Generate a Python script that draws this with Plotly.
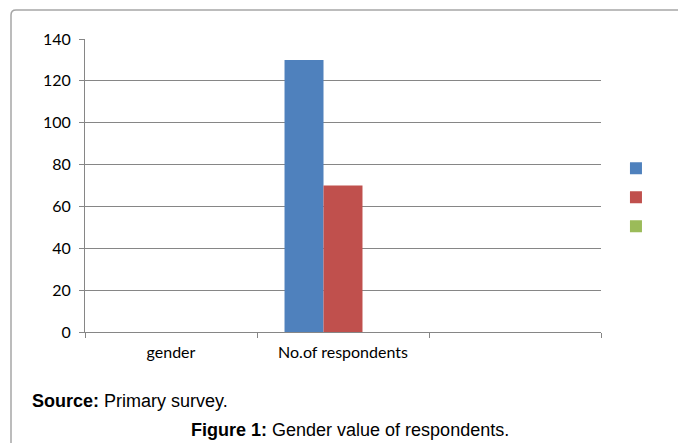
import plotly.graph_objects as go

categories = ["gender", "No.of respondents", " "]
series_names = [" ", "  ", "   "]
series1 = [None, 130, None]
series2 = [None, 70, None]
series3 = [None, None, None]
colors = ["#4F81BD", "#C0504D", "#9BBB59"]
y_ticks = [0, 20, 40, 60, 80, 100, 120, 140]

W, H = 678, 443
L, R, T, B = 85, 77, 39, 111

fig = go.Figure()
for name, vals, c in zip(series_names, [series1, series2, series3], colors):
    fig.add_trace(go.Bar(x=categories, y=vals, name=name, marker=dict(color=c, line=dict(width=0))))

fig.update_layout(
    width=W, height=H,
    margin=dict(l=L, r=R, t=T, b=B, pad=0, autoexpand=False),
    paper_bgcolor="white", plot_bgcolor="white",
    barmode="group", bargap=0.32, bargroupgap=0,
    font=dict(family="Lato, Carlito, sans-serif", size=16, color="#000"),
    showlegend=True,
    legend=dict(x=1.029, y=0.46, xanchor="left", yanchor="middle",
                font=dict(size=20), bgcolor="rgba(0,0,0,0)", itemwidth=30),
)
fig.update_xaxes(
    type="category", tickson="boundaries", ticks="outside", ticklen=5,
    tickcolor="#868686", showline=True, linecolor="#868686", linewidth=1,
    showgrid=False, tickfont=dict(size=16), fixedrange=True,
    ticklabelstandoff=6,
)
fig.update_yaxes(
    range=[0, 140], tickvals=y_ticks, ticks="outside", ticklen=5,
    tickcolor="#868686", showline=True, linecolor="#868686", linewidth=1,
    showgrid=True, gridcolor="#868686", gridwidth=1, zeroline=False,
    tickfont=dict(size=16), fixedrange=True, ticklabelstandoff=5,
)

pw = W - L - R
ph = H - T - B
def px(x):
    return (x - L) / pw
def py(y):
    return (H - B - y) / ph

# outer frame (extends beyond the window on right and bottom)
fig.add_shape(type="path", xref="paper", yref="paper",
              path=f"M {px(11)} {py(460)} L {px(11)} {py(15)} Q {px(11)} {py(10)} {px(16)} {py(10)} L {px(720)} {py(10)}",
              line=dict(color="#A6A6A6", width=1.5))

fig.add_annotation(xref="paper", yref="paper", x=px(30), y=py(401), xanchor="left", yanchor="middle",
                   text="<b>Source:</b> Primary survey.", showarrow=False,
                   font=dict(family="Liberation Sans, Arial", size=18, color="#000"))
fig.add_annotation(xref="paper", yref="paper", x=px(350), y=py(430), xanchor="center", yanchor="middle",
                   text="<b>Figure 1:</b> Gender value of respondents.", showarrow=False,
                   font=dict(family="Liberation Sans, Arial", size=18, color="#000"))

fig.write_html("out.html", config={"displayModeBar": False})
